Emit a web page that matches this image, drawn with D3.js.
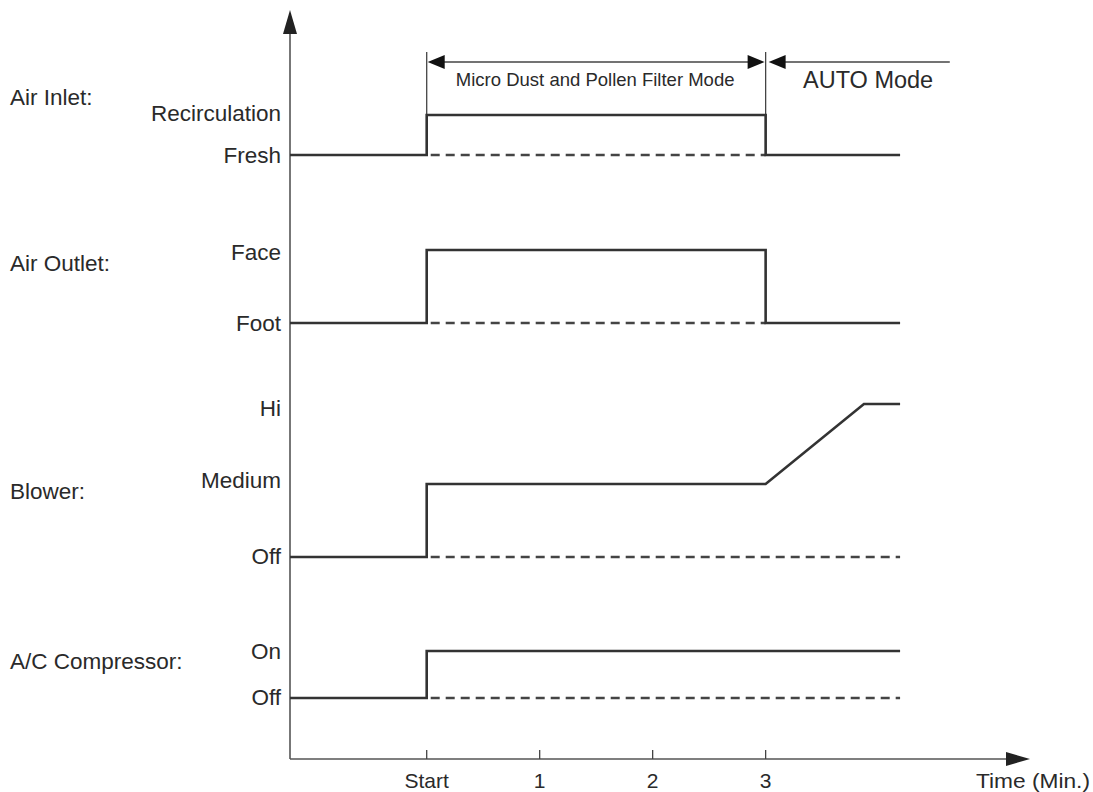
<!DOCTYPE html>
<html lang="en">
<head>
    <meta charset="utf-8">
    <script src="https://cdn.jsdelivr.net/npm/d3@7/dist/d3.min.js"></script>
    <style>
        body { margin: 0; background: #fff; }
        text { font-family: "Liberation Sans", Arial, sans-serif; fill: #2a2a2a; }
        .sig { fill: none; stroke: #333; stroke-width: 2.6; }
        .dash { fill: none; stroke: #444; stroke-width: 2.6; stroke-dasharray: 9 6; }
        .axis { stroke: #555; stroke-width: 1.6; fill: none; }
        .thin { stroke: #444; stroke-width: 1.3; fill: none; }
    </style>
</head>
<body>
<script>
    // time in minutes, 0 = Start
    const tickValues = [0, 1, 2, 3];
    const tickLabels = ['Start', '1', '2', '3'];
    const tStart = -1.21, tEnd = 4.19, tAxisEnd = 5.34;

    const channels = ['Air Inlet:', 'Air Outlet:', 'Blower:', 'A/C Compressor:'];
    const levels = ['Recirculation', 'Fresh', 'Face', 'Foot', 'Hi', 'Medium', 'Off (Blower)', 'On', 'Off (A/C)'];

    // signal traces: [time, level]
    const airInlet = [[tStart, 'Fresh'], [0, 'Fresh'], [0, 'Recirculation'], [3, 'Recirculation'], [3, 'Fresh'], [tEnd, 'Fresh']];
    const airOutlet = [[tStart, 'Foot'], [0, 'Foot'], [0, 'Face'], [3, 'Face'], [3, 'Foot'], [tEnd, 'Foot']];
    const blower = [[tStart, 'Off (Blower)'], [0, 'Off (Blower)'], [0, 'Medium'], [3, 'Medium'], [3.87, 'Hi'], [tEnd, 'Hi']];
    const compressor = [[tStart, 'Off (A/C)'], [0, 'Off (A/C)'], [0, 'On'], [tEnd, 'On']];

    // dashed baselines: [from, to, level]
    const baselines = [[0, 3, 'Fresh'], [0, 3, 'Foot'], [0, tEnd, 'Off (Blower)'], [0, tEnd, 'Off (A/C)']];

    const svg = d3.select('body').append('svg')
        .attr('width', 1093).attr('height', 792);

    const x = d3.scaleLinear().domain([tStart, tAxisEnd]).range([290, 1030]);
    const y = d3.scaleOrdinal().domain(levels)
        .range([115, 155, 250, 323, 404, 484, 557, 651, 698]);
    // vertical centre of each level's label
    const labelY = d3.scaleOrdinal().domain(levels)
        .range([113, 155, 252, 323, 408, 480, 556, 651, 697]);
    const channelY = d3.scaleOrdinal().domain(channels).range([97, 263, 491, 661]);
    const axisY = 759;

    const line = d3.line().x(d => x(d[0])).y(d => y(d[1]));

    // axes
    svg.append('line').attr('class', 'axis')
        .attr('x1', x(tStart)).attr('x2', x(tAxisEnd) - 18)
        .attr('y1', axisY).attr('y2', axisY);
    svg.append('path').attr('fill', '#222')
        .attr('d', `M${x(tAxisEnd)},${axisY} l-24,-7 l0,14 z`);
    svg.append('line').attr('class', 'axis')
        .attr('x1', x(tStart)).attr('x2', x(tStart))
        .attr('y1', axisY).attr('y2', 28);
    svg.append('path').attr('fill', '#222')
        .attr('d', `M${x(tStart)},10 l-7,24 l14,0 z`);

    // ticks
    svg.append('g').selectAll('line').data(tickValues).enter().append('line')
        .attr('class', 'thin')
        .attr('x1', d => x(d)).attr('x2', d => x(d))
        .attr('y1', axisY - 9).attr('y2', axisY);
    svg.append('g').selectAll('text').data(tickValues).enter().append('text')
        .attr('x', d => x(d)).attr('y', 788)
        .attr('text-anchor', 'middle').attr('font-size', 21)
        .text((d, i) => tickLabels[i]);
    svg.append('text').attr('x', 1090).attr('y', 788)
        .attr('text-anchor', 'end').attr('font-size', 21)
        .attr('textLength', 114).attr('lengthAdjust', 'spacingAndGlyphs')
        .text('Time (Min.)');

    // channel labels
    svg.append('g').selectAll('text').data(channels).enter().append('text')
        .attr('x', 10).attr('y', d => channelY(d) + 8)
        .attr('font-size', 22.5).text(d => d);

    // level labels
    svg.append('g').selectAll('text').data(levels).enter().append('text')
        .attr('x', 281).attr('y', d => labelY(d) + 8)
        .attr('text-anchor', 'end').attr('font-size', 22.5)
        .text(d => d.replace(/ \(.*\)/, ''));

    // mode markers
    const modeY = 62;
    [0, 3].forEach(t => {
        svg.append('line').attr('class', 'thin')
            .attr('x1', x(t)).attr('x2', x(t))
            .attr('y1', 52).attr('y2', y('Fresh'));
    });
    svg.append('line').attr('class', 'thin')
        .attr('x1', x(0) + 14).attr('x2', x(3) - 14)
        .attr('y1', modeY).attr('y2', modeY);
    svg.append('path').attr('fill', '#111')
        .attr('d', `M${x(0) + 1},${modeY} l17,-7 l0,14 z M${x(3) - 1},${modeY} l-17,-7 l0,14 z`);
    svg.append('line').attr('class', 'thin')
        .attr('x1', x(3) + 14).attr('x2', x(4.63))
        .attr('y1', modeY).attr('y2', modeY);
    svg.append('path').attr('fill', '#111')
        .attr('d', `M${x(3) + 3},${modeY} l17,-7 l0,14 z`);
    svg.append('text').attr('x', (x(0) + x(3)) / 2 - 1).attr('y', 86)
        .attr('text-anchor', 'middle').attr('font-size', 18.5)
        .text('Micro Dust and Pollen Filter Mode');
    svg.append('text').attr('x', 803).attr('y', 88)
        .attr('font-size', 23.5).text('AUTO Mode');

    // dashed baselines
    svg.append('g').selectAll('line').data(baselines).enter().append('line')
        .attr('class', 'dash')
        .attr('x1', d => x(d[0]) + 4).attr('x2', d => x(d[1]))
        .attr('y1', d => y(d[2])).attr('y2', d => y(d[2]));

    // signals
    svg.append('g').selectAll('path').data([airInlet, airOutlet, blower, compressor]).enter()
        .append('path').attr('class', 'sig').attr('d', line);
</script>
</body>
</html>
